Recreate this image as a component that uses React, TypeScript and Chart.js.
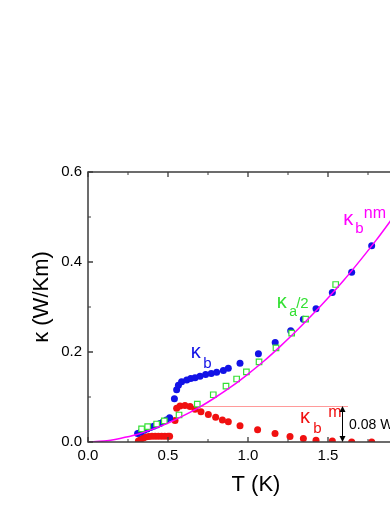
import React, { useEffect, useRef } from "react";
import { Chart, registerables } from "chart.js";

Chart.register(...registerables);

// ---- data ----
const blueT = [0.31, 0.33, 0.35, 0.37, 0.39, 0.41, 0.43, 0.45, 0.47, 0.49, 0.51, 0.54, 0.554, 0.565, 0.585, 0.617, 0.642, 0.669, 0.70, 0.735, 0.77, 0.804, 0.846, 0.877, 0.95, 1.065, 1.17, 1.267, 1.346, 1.425, 1.527, 1.648, 1.773];
const blueK = [0.019, 0.022, 0.026, 0.029, 0.032, 0.035, 0.038, 0.041, 0.045, 0.049, 0.054, 0.096, 0.116, 0.126, 0.134, 0.138, 0.141, 0.143, 0.146, 0.150, 0.152, 0.155, 0.159, 0.164, 0.175, 0.196, 0.221, 0.247, 0.273, 0.296, 0.332, 0.377, 0.436];

const greenT = [0.335, 0.373, 0.429, 0.477, 0.569, 0.683, 0.783, 0.8625, 0.929, 0.99, 1.069, 1.175, 1.273, 1.36, 1.548];
const greenK = [0.029, 0.034, 0.040, 0.047, 0.060, 0.084, 0.105, 0.124, 0.140, 0.156, 0.178, 0.209, 0.242, 0.273, 0.350];

const redT = [0.315, 0.33, 0.345, 0.36, 0.38, 0.40, 0.42, 0.44, 0.46, 0.48, 0.50, 0.51, 0.544, 0.554, 0.575, 0.606, 0.6375, 0.669, 0.706, 0.752, 0.798, 0.84, 0.877, 0.95, 1.06, 1.169, 1.2625, 1.346, 1.425, 1.527, 1.648, 1.773];
const redK = [0.002, 0.006, 0.009, 0.011, 0.012, 0.013, 0.013, 0.013, 0.013, 0.013, 0.013, 0.013, 0.048, 0.075, 0.080, 0.081, 0.079, 0.073, 0.067, 0.061, 0.055, 0.049, 0.045, 0.036, 0.027, 0.019, 0.012, 0.008, 0.004, 0.002, 0.0, 0.0];

const curveT = [0, 0.1, 0.2, 0.3, 0.4, 0.5, 0.6, 0.7, 0.8, 0.9, 1.0, 1.1, 1.2, 1.3, 1.4, 1.5, 1.6, 1.7, 1.8, 1.9, 2.0, 2.1];
const curveK = [0, 0.002, 0.008, 0.016, 0.028, 0.042, 0.059, 0.078, 0.100, 0.124, 0.151, 0.180, 0.212, 0.246, 0.282, 0.320, 0.360, 0.403, 0.448, 0.496, 0.545, 0.596];

const xMajorTicks = [0, 0.5, 1.0, 1.5, 2.0];
const xMinorTicks = [0.25, 0.75, 1.25, 1.75];
const yMajorTicks = [0, 0.2, 0.4, 0.6];
const yMinorTicks = [0.1, 0.3, 0.5];

const refLevel = 0.08;
const refLineStart = 0.58;
const refLineEnd = 1.625;
const arrowT = 1.585;

const xTitle = "T (K)";
const yTitle = "κ (W/Km)";
const refText = "0.08 W/Km";

const FONT = "'Liberation Sans', Arial, Helvetica, sans-serif";
const BLUE = "#1212e6";
const RED = "#f01010";
const GREEN = "#33e033";
const MAGENTA = "#ff00ff";
const FRAME = "#3c3c3c";

type Part = { text: string; dx: number; dy: number; size: number };
type Label = { t: number; k: number; color: string; parts: Part[] };

const labels: Label[] = [
  {
    t: 0.642, k: 0.187, color: BLUE,
    parts: [
      { text: "κ", dx: 0, dy: 0, size: 20 },
      { text: "b", dx: 12.5, dy: 10, size: 15 },
    ],
  },
  {
    t: 1.179, k: 0.298, color: GREEN,
    parts: [
      { text: "κ", dx: 0, dy: 0, size: 20 },
      { text: "a", dx: 12.5, dy: 8.5, size: 14 },
      { text: "/2", dx: 19.5, dy: 0, size: 15 },
    ],
  },
  {
    t: 1.596, k: 0.482, color: MAGENTA,
    parts: [
      { text: "κ", dx: 0, dy: 0, size: 20 },
      { text: "b", dx: 12, dy: 7.7, size: 15 },
      { text: "nm", dx: 20.5, dy: -6.7, size: 16 },
    ],
  },
  {
    t: 1.325, k: 0.0415, color: RED,
    parts: [
      { text: "κ", dx: 0, dy: 0, size: 20 },
      { text: "b", dx: 13.3, dy: 9.4, size: 15 },
      { text: "m", dx: 28.3, dy: -6.6, size: 16 },
    ],
  },
];

const toPts = (xs: number[], ys: number[]) => xs.map((x, i) => ({ x, y: ys[i] }));

const decor = {
  id: "decor",
  beforeDatasetsDraw(chart: any) {
    const { ctx, scales } = chart;
    const x = scales.x, y = scales.y;
    ctx.save();
    ctx.strokeStyle = "#ff9a9a";
    ctx.lineWidth = 1;
    const yy = Math.round(y.getPixelForValue(refLevel)) + 0.5;
    ctx.beginPath();
    ctx.moveTo(x.getPixelForValue(refLineStart), yy);
    ctx.lineTo(x.getPixelForValue(refLineEnd), yy);
    ctx.stroke();
    ctx.restore();
  },
  afterDatasetsDraw(chart: any) {
    const { ctx, chartArea: ca, scales } = chart;
    const x = scales.x, y = scales.y;
    ctx.save();
    // frame
    ctx.strokeStyle = FRAME;
    ctx.lineWidth = 1.5;
    ctx.beginPath();
    ctx.moveTo(ca.left, ca.bottom);
    ctx.lineTo(ca.left, ca.top);
    ctx.lineTo(ca.right, ca.top);
    ctx.lineTo(ca.right, ca.bottom);
    ctx.closePath();
    ctx.stroke();
    // ticks (inward)
    const tick = (px: number, len: number, horiz: boolean) => {
      ctx.beginPath();
      if (horiz) {
        ctx.moveTo(px, ca.bottom); ctx.lineTo(px, ca.bottom - len);
        ctx.moveTo(px, ca.top); ctx.lineTo(px, ca.top + len);
      } else {
        ctx.moveTo(ca.left, px); ctx.lineTo(ca.left + len, px);
        ctx.moveTo(ca.right, px); ctx.lineTo(ca.right - len, px);
      }
      ctx.stroke();
    };
    ctx.lineWidth = 1.3;
    xMajorTicks.forEach((v) => tick(x.getPixelForValue(v), 5, true));
    yMajorTicks.forEach((v) => tick(y.getPixelForValue(v), 5, false));
    ctx.lineWidth = 1;
    xMinorTicks.forEach((v) => tick(x.getPixelForValue(v), 3, true));
    yMinorTicks.forEach((v) => tick(y.getPixelForValue(v), 3, false));

    // series labels
    ctx.textAlign = "left";
    ctx.textBaseline = "alphabetic";
    labels.forEach((l) => {
      const ax = x.getPixelForValue(l.t);
      const ay = y.getPixelForValue(l.k);
      ctx.fillStyle = l.color;
      l.parts.forEach((p) => {
        ctx.font = `${p.size}px ${FONT}`;
        ctx.fillText(p.text, ax + p.dx, ay + p.dy);
      });
    });

    // double arrow for 0.08 W/Km
    const axp = Math.round(x.getPixelForValue(arrowT)) + 0.5;
    const yTop = y.getPixelForValue(refLevel);
    const yBot = y.getPixelForValue(0);
    ctx.strokeStyle = "#000";
    ctx.fillStyle = "#000";
    ctx.lineWidth = 1;
    ctx.beginPath();
    ctx.moveTo(axp, yTop + 4);
    ctx.lineTo(axp, yBot - 4);
    ctx.stroke();
    ctx.beginPath();
    ctx.moveTo(axp, yTop);
    ctx.lineTo(axp - 3, yTop + 6);
    ctx.lineTo(axp + 3, yTop + 6);
    ctx.closePath();
    ctx.fill();
    ctx.beginPath();
    ctx.moveTo(axp, yBot);
    ctx.lineTo(axp - 3, yBot - 6);
    ctx.lineTo(axp + 3, yBot - 6);
    ctx.closePath();
    ctx.fill();
    ctx.font = `14px ${FONT}`;
    ctx.textBaseline = "middle";
    ctx.fillText(refText, axp + 6.5, y.getPixelForValue(0.0378));

    // axis titles
    ctx.fillStyle = "#000";
    ctx.font = `22px ${FONT}`;
    ctx.textAlign = "center";
    ctx.textBaseline = "alphabetic";
    ctx.fillText(xTitle, (ca.left + ca.right) / 2, 491);
    ctx.save();
    ctx.translate(48, 297);
    ctx.rotate(-Math.PI / 2);
    ctx.fillText(yTitle, 0, 0);
    ctx.restore();
    ctx.restore();
  },
};

const App = () => {
  const ref = useRef<HTMLCanvasElement>(null);
  useEffect(() => {
    if (!ref.current) return;
    const tickFont = { family: FONT, size: 15 };
    const chart = new Chart(ref.current, {
      type: "scatter",
      data: {
        datasets: [
          {
            label: "nm",
            data: toPts(curveT, curveK),
            showLine: true,
            borderColor: MAGENTA,
            borderWidth: 1.5,
            pointRadius: 0,
            cubicInterpolationMode: "monotone",
            order: 0,
            clip: 0,
          } as any,
          {
            label: "a/2",
            data: toPts(greenT, greenK),
            pointStyle: "rect",
            pointRadius: 3.9,
            borderColor: GREEN,
            backgroundColor: "#ffffff",
            borderWidth: 1.2,
            order: 1,
            clip: 0,
          } as any,
          {
            label: "b",
            data: toPts(blueT, blueK),
            pointStyle: "circle",
            pointRadius: 3.5,
            borderColor: BLUE,
            backgroundColor: BLUE,
            borderWidth: 0,
            order: 2,
            clip: 0,
          } as any,
          {
            label: "m",
            data: toPts(redT, redK),
            pointStyle: "circle",
            pointRadius: 3.5,
            borderColor: RED,
            backgroundColor: RED,
            borderWidth: 0,
            order: 3,
            clip: 0,
          } as any,
        ],
      },
      options: {
        responsive: false,
        animation: false,
        events: [],
        layout: { padding: { top: 172, right: 6, left: 0, bottom: 0 } },
        plugins: { legend: { display: false }, tooltip: { enabled: false } },
        scales: {
          x: {
            type: "linear",
            min: 0,
            max: 2.1,
            grid: { display: false, drawTicks: false },
            border: { display: false },
            ticks: {
              stepSize: 0.5,
              includeBounds: false,
              padding: 5,
              color: "#000",
              font: tickFont,
              maxRotation: 0,
              autoSkip: false,
              callback: (v: any) => Number(v).toFixed(1),
            },
            afterFit: (s: any) => { s.height = 63; },
          },
          y: {
            type: "linear",
            min: 0,
            max: 0.6,
            grid: { display: false, drawTicks: false },
            border: { display: false },
            ticks: {
              stepSize: 0.2,
              padding: 6,
              color: "#000",
              font: tickFont,
              callback: (v: any) => Number(v).toFixed(1),
            },
            afterFit: (s: any) => { s.width = 88; },
          },
        },
      } as any,
      plugins: [decor],
    });
    return () => chart.destroy();
  }, []);
  return (
    <div style={{ position: "absolute", left: 0, top: 0, width: 390, height: 505, overflow: "hidden", background: "#fff" }}>
      <canvas ref={ref} width={430} height={505} style={{ display: "block" }} />
    </div>
  );
};

export default App;
